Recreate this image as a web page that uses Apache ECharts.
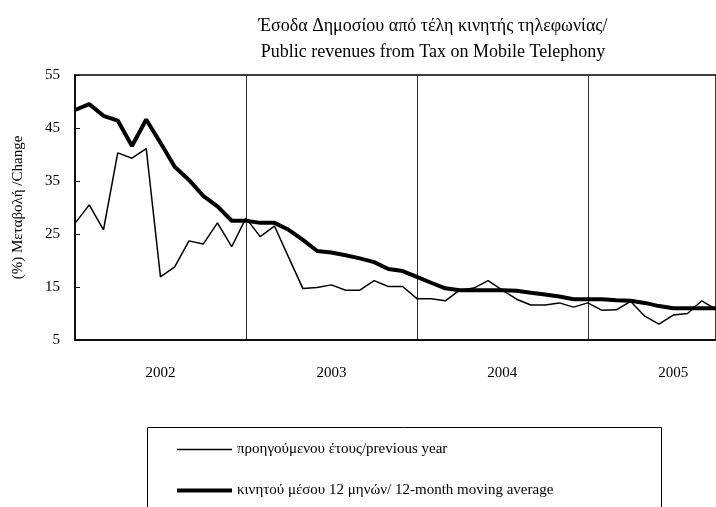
<!DOCTYPE html>
<html>
<head>
<meta charset="utf-8">
<script src="https://cdn.jsdelivr.net/npm/echarts@6/dist/echarts.min.js"></script>
<style>
  html, body { margin: 0; padding: 0; background: #fff; }
  #chart { width: 716px; height: 507px; }
</style>
</head>
<body>
<div id="chart"></div>
<script>
// months Jan 2002 .. Oct 2005 (last one falls off the right edge)
var months = [];
for (var y = 2002; y <= 2005; y++) {
    for (var m = 1; m <= 12; m++) {
        if (y === 2005 && m > 10) break;
        months.push(y + '-' + (m < 10 ? '0' + m : m));
    }
}

var prevYear = [27.0, 30.5, 25.8, 40.3, 39.3, 41.1, 16.9, 18.8, 23.7, 23.1, 27.1, 22.6,
                28.0, 24.5, 26.5, 20.6, 14.7, 14.9, 15.4, 14.4, 14.4, 16.2, 15.1, 15.1,
                12.8, 12.8, 12.4, 14.4, 14.8, 16.2, 14.4, 12.7, 11.6, 11.6, 12.0, 11.2,
                12.0, 10.6, 10.7, 12.3, 9.5, 8.0, 9.7, 10.0, 12.4, 10.8];
var movingAvg = [48.4, 49.5, 47.3, 46.4, 41.6, 46.6, 42.2, 37.7, 35.2, 32.2, 30.2, 27.5,
                 27.5, 27.1, 27.1, 25.8, 23.9, 21.8, 21.5, 21.0, 20.4, 19.7, 18.4, 18.0,
                 16.9, 15.8, 14.75, 14.4, 14.4, 14.4, 14.4, 14.3, 13.9, 13.6, 13.2, 12.7,
                 12.7, 12.7, 12.5, 12.4, 12.0, 11.4, 11.0, 11.0, 11.0, 11.0];

var serif = '"Liberation Serif", "DejaVu Serif", serif';
var chart = echarts.init(document.getElementById('chart'));

chart.setOption({
    backgroundColor: '#fff',
    animation: false,
    title: {
        text: 'Έσοδα Δημοσίου από τέλη κινητής τηλεφωνίας/\nPublic revenues from Tax on Mobile Telephony',
        left: 428,
        top: 8,
        textAlign: 'center',
        textStyle: { fontFamily: serif, fontSize: 18, fontWeight: 'normal', color: '#000', lineHeight: 26 }
    },
    grid: { left: 75, top: 75, right: -7, bottom: 167, show: true, borderColor: '#000', borderWidth: 1.5 },
    legend: {
        orient: 'vertical',
        left: 170,
        top: 437,
        itemWidth: 55,
        itemHeight: 12,
        itemGap: 26,
        itemStyle: { opacity: 0 },
        textStyle: { fontFamily: serif, fontSize: 15, color: '#000' },
        data: [
            { name: 'προηγούμενου έτους/previous year', lineStyle: { width: 1.5, color: '#000' } },
            { name: 'κινητού μέσου 12 μηνών/ 12-month moving average', lineStyle: { width: 4, color: '#000' } }
        ]
    },
    graphic: [{
        type: 'rect',
        left: 145, top: 425,
        shape: { width: 514, height: 100 },
        style: { fill: 'none', stroke: '#000', lineWidth: 1 }
    }],
    xAxis: {
        type: 'category',
        data: months,
        boundaryGap: false,
        axisLine: { lineStyle: { color: '#000', width: 1.5 } },
        axisTick: { show: false },
        axisLabel: {
            interval: function (i) { return i % 12 === 6; },
            formatter: function (v) { return v.slice(0, 4); },
            margin: 26,
            fontFamily: serif, fontSize: 15, color: '#000'
        },
        splitLine: {
            show: true,
            interval: function (i) { return i > 0 && i % 12 === 0; },
            lineStyle: { color: '#333', width: 1 }
        }
    },
    yAxis: {
        type: 'value',
        min: 5, max: 55, interval: 10,
        name: '(%) Μεταβολή /Change',
        nameLocation: 'middle',
        nameGap: 49,
        nameTextStyle: { fontFamily: serif, fontSize: 15, color: '#000' },
        axisLine: { show: true, lineStyle: { color: '#000', width: 1.5 } },
        axisTick: { show: true, inside: true, length: 5, lineStyle: { color: '#000' } },
        axisLabel: { margin: 15, fontFamily: serif, fontSize: 15, color: '#000' },
        splitLine: { show: false }
    },
    series: [{
        name: 'προηγούμενου έτους/previous year',
        type: 'line',
        data: prevYear,
        symbol: 'none',
        itemStyle: { color: '#000' },
        lineStyle: { color: '#000', width: 1.5 }
    }, {
        name: 'κινητού μέσου 12 μηνών/ 12-month moving average',
        type: 'line',
        data: movingAvg,
        symbol: 'none',
        itemStyle: { color: '#000' },
        lineStyle: { color: '#000', width: 4 }
    }]
});
</script>
</body>
</html>
